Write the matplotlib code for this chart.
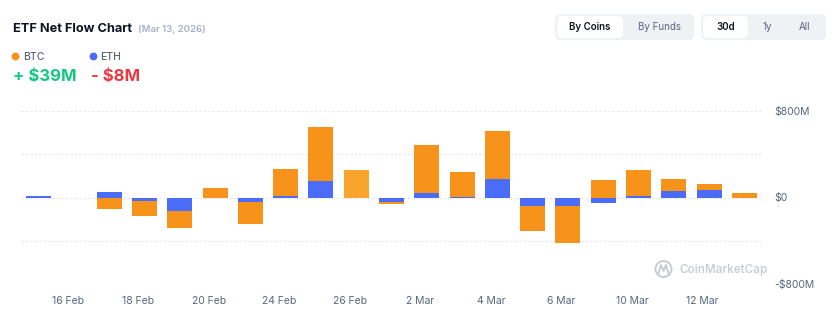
import numpy as np
import matplotlib
matplotlib.use("Agg")
from matplotlib import pyplot as plt
from matplotlib.patches import FancyBboxPatch, Circle

plt.rcParams['font.family'] = ['Inter', 'DejaVu Sans']

# trading days (16 Feb is a holiday -> empty slot)
dates = ['13 Feb', '16 Feb', '17 Feb', '18 Feb', '19 Feb', '20 Feb', '23 Feb',
         '24 Feb', '25 Feb', '26 Feb', '27 Feb', '2 Mar', '3 Mar', '4 Mar',
         '5 Mar', '6 Mar', '9 Mar', '10 Mar', '11 Mar', '12 Mar', '13 Mar']
tick_labels = ['16 Feb', '18 Feb', '20 Feb', '24 Feb', '26 Feb',
               '2 Mar', '4 Mar', '6 Mar', '10 Mar', '12 Mar']
# net flows in $M
btc = [3, 0, -103, -133, -160, 88, -203, 248, 497, 254, -24, 442, 227, 451,
       -224, -340, 164, 243, 112, 48, 39]
eth = [10, 0, 52, -36, -124, 0, -45, 12, 157, 0, -39, 45, 5, 167,
       -82, -82, -52, 12, 61, 73, -8]

BTC_C = '#F7931A'
ETH_C = '#4A6CF7'

W, H = 838, 336
fig = plt.figure(figsize=(W / 100, H / 100), dpi=100)
fig.patch.set_facecolor('white')

# main plot area in pixels: x 21..762, y 111..284
ax = fig.add_axes([21 / W, 1 - 284 / H, (762 - 21) / W, (284 - 111) / H])
x = np.arange(len(dates))
btc = np.array(btc, dtype=float)
eth = np.array(eth, dtype=float)
same = np.sign(btc) == np.sign(eth)
btc_bottom = np.where(same, eth, 0)
btc_colors = [BTC_C] * len(dates)
btc_colors[dates.index('26 Feb')] = '#F9A42C'

ax.bar(x, eth, width=0.71, color=ETH_C, zorder=3, linewidth=0)
ax.bar(x, btc, width=0.71, bottom=btc_bottom, color=btc_colors, zorder=3, linewidth=0)

for g in [-800, -400, 0, 400, 800]:
    ax.axhline(g, color='#e3e6ec', lw=0.8, ls=(0, (2, 2)), zorder=1)

ax.set_xlim(-0.5, len(dates) - 0.5)
ax.set_ylim(-800, 800)
for s in ax.spines.values():
    s.set_visible(False)
ax.set_xticks([dates.index(t) - 0.18 for t in tick_labels])
ax.set_xticklabels(tick_labels)
ax.yaxis.tick_right()
ax.set_yticks([-800, 0, 800])
ax.set_yticklabels(['-$800M', '$0', '$800M'])
ax.tick_params(axis='both', length=0, labelsize=7.5, colors='#58667e')
ax.tick_params(axis='x', pad=9)
ax.tick_params(axis='y', pad=9)
ax.set_facecolor('none')

# overlay in pixel coordinates for header, buttons and watermark
ov = fig.add_axes([0, 0, 1, 1])
ov.set_xlim(0, W)
ov.set_ylim(H, 0)
ov.axis('off')
ov.set_facecolor('none')

ov.text(13, 29, 'ETF Net Flow Chart', fontsize=9.2, fontweight='bold',
        color='#0d1421', va='center', ha='left')
ov.text(137.5, 29.5, '(Mar 13, 2026)', fontsize=6.9, fontweight='semibold',
        color='#a6b0c3', va='center', ha='left')

ov.add_patch(Circle((15.5, 56.5), 3.2, color=BTC_C))
ov.text(23, 56.5, 'BTC', fontsize=7.5, fontweight='medium', color='#58667e', va='center')
ov.add_patch(Circle((93.5, 56.5), 3.2, color=ETH_C))
ov.text(100, 56.5, 'ETH', fontsize=7.5, fontweight='medium', color='#58667e', va='center')
ov.text(13, 77, '+ $39M', fontsize=12, fontweight='bold', color='#16c784', va='center')
ov.text(91, 77, '- $8M', fontsize=12, fontweight='bold', color='#ea3943', va='center')

def pill(x0, x1, y0, y1, fc):
    ov.add_patch(FancyBboxPatch((x0, y0), x1 - x0, y1 - y0,
                                boxstyle='round,pad=0,rounding_size=5',
                                fc=fc, ec='none'))

pill(555, 694, 14, 40, '#eff2f5')
pill(557.5, 623, 16, 38, 'white')
pill(701, 826, 14, 40, '#eff2f5')
pill(703, 748, 16, 38, 'white')
ov.text(590, 27, 'By Coins', fontsize=7, fontweight='semibold', color='#0d1421', ha='center', va='center')
ov.text(659, 27, 'By Funds', fontsize=7, color='#58667e', ha='center', va='center')
ov.text(726, 27, '30d', fontsize=7, fontweight='semibold', color='#0d1421', ha='center', va='center')
ov.text(767, 27, '1y', fontsize=7, color='#58667e', ha='center', va='center')
ov.text(804, 27, 'All', fontsize=7, color='#58667e', ha='center', va='center')

# watermark
ov.add_patch(Circle((663.5, 269), 8, fill=False, ec='#c4c9d2', lw=1.3))
ov.plot([658.5, 661, 663.5, 666, 668.5], [273, 265, 271, 265, 273],
        color='#c4c9d2', lw=1.3)
ov.text(679, 269.5, 'CoinMarketCap', fontsize=8.5, fontweight='medium',
        color='#c4c9d2', va='center', ha='left')

fig.savefig('out.png', dpi=100)
